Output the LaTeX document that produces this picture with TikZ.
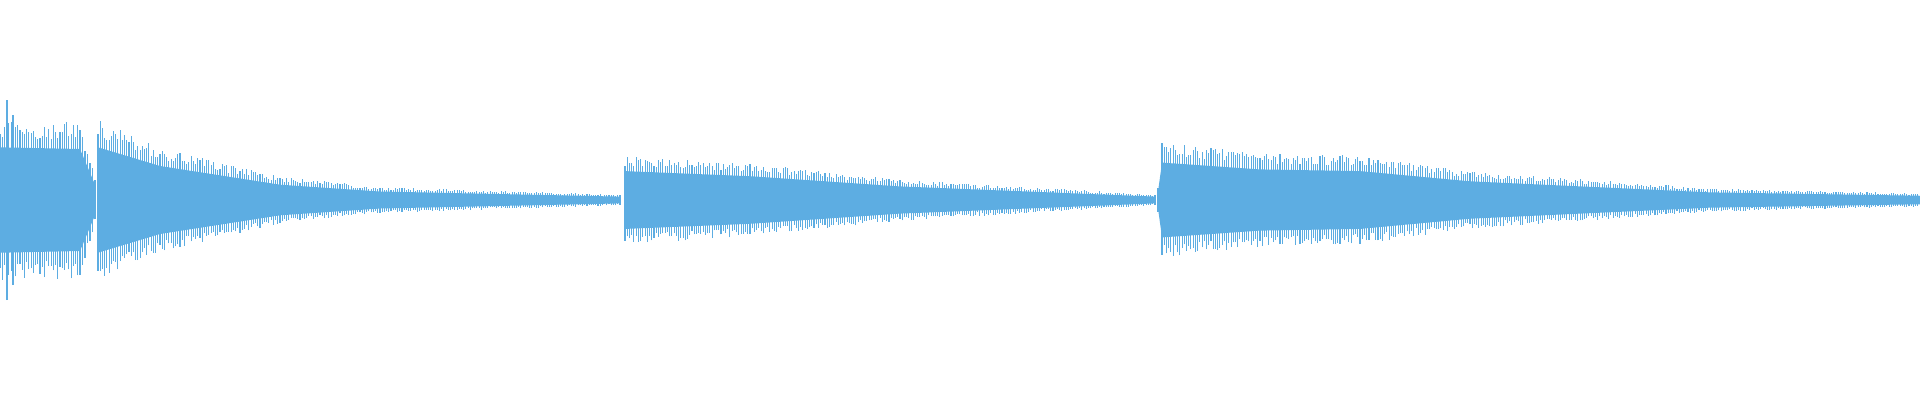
\documentclass[tikz,border=0pt]{standalone}
\usepackage{xcolor}
\usepackage{tikz}
\definecolor{wave}{RGB}{93,173,226}

\begin{document}
\begin{tikzpicture}
        \tikzset{body/.style = {fill=wave, draw=none}}
        \tikzset{spike/.style = {wave, line width=0.3pt}}
        \pgfmathsetseed{42}
        \useasboundingbox (0,0) rectangle (19.2,4);

        % envelope pieces: x start / half height / x end / half height
        \foreach \xa/\ha/\xb/\hb in {0/0.62/0.80/0.60, 0.80/0.60/0.95/0.18,
                0.98/0.62/1.6/0.40, 1.6/0.40/2.8/0.18, 2.8/0.18/3.8/0.10, 3.8/0.10/6.2/0.04,
                6.25/0.34/7.5/0.28, 7.5/0.28/9.0/0.16, 9.0/0.16/11.55/0.04,
                11.58/0.10/11.62/0.44, 11.62/0.44/12.6/0.36, 12.6/0.36/13.6/0.34,
                13.6/0.34/14.7/0.22, 14.7/0.22/17.1/0.09, 17.1/0.09/19.2/0.05} {
            % body
            \fill[body] (\xa,2+0.85*\ha) -- (\xb,2+0.85*\hb) -- (\xb,2-0.85*\hb) -- (\xa,2-0.85*\ha) -- cycle;
            % spikes
            \pgfmathtruncatemacro{\n}{(\xb-\xa)/0.022}
            \foreach \i in {0,...,\n} {
                \pgfmathsetmacro{\t}{\i/max(\n,1)}
                \pgfmathsetmacro{\x}{\xa+\t*(\xb-\xa)}
                \pgfmathsetmacro{\h}{\ha+\t*(\hb-\ha)}
                \pgfmathsetmacro{\up}{2+\h*(1+0.3*rnd)}
                \pgfmathsetmacro{\dn}{2-\h*(1+0.3*rnd)}
                \draw[spike] (\x,\dn) -- (\x,\up);
            }
        }
        % tallest spikes at the start
        \draw[spike] (0.07,1.0) -- (0.07,3.0);
        \draw[spike] (0.13,1.15) -- (0.13,2.85);
\end{tikzpicture}
\end{document}
